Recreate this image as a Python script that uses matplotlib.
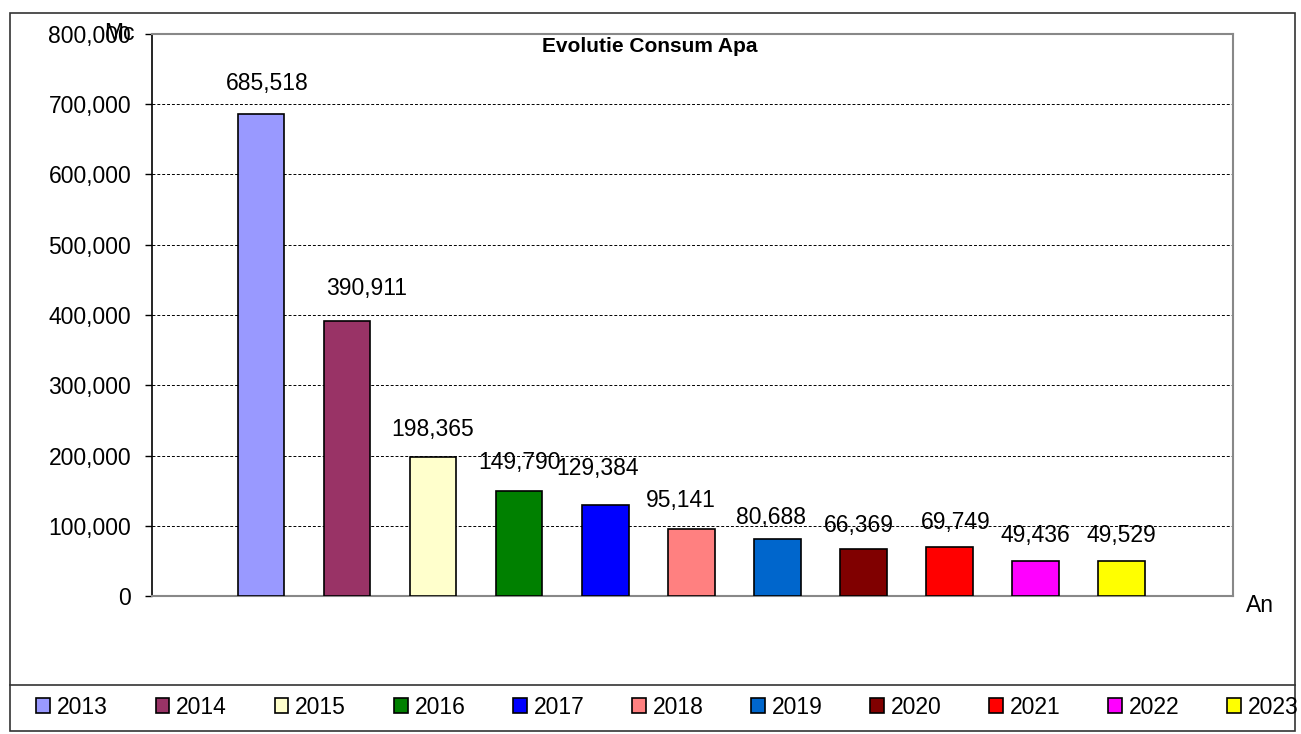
import matplotlib.pyplot as plt
from matplotlib.patches import Rectangle
from matplotlib.lines import Line2D
from matplotlib.ticker import FuncFormatter

years = ['2013', '2014', '2015', '2016', '2017', '2018', '2019', '2020', '2021', '2022', '2023']
consum = [685518, 390911, 198365, 149790, 129384, 95141, 80688, 66369, 69749, 49436, 49529]
colors = ['#9999FF', '#993366', '#FFFFCC', '#008000', '#0000FF', '#FF8080',
          '#0066CC', '#800000', '#FF0000', '#FF00FF', '#FFFF00']

# label nudges (px) relative to bar centre / bar top, as in the original chart
label_dx = [6, 20, 0, 0, -8, -10, -6, -4, 7, 0, 0]
label_dy = [31, 33, 27, 28, 37, 29, 22, 24, 25, 26, 26]

plt.rcParams['font.family'] = ['Liberation Sans', 'DejaVu Sans']

W, H = 1301, 734
fig = plt.figure(figsize=(W / 100, H / 100), dpi=100)

# outer chart frame + legend separator
fig.patches.append(Rectangle((10 / W, 1 - 731 / H), 1285 / W, 718 / H,
                             transform=fig.transFigure, fill=False,
                             edgecolor='#333333', lw=1.2))
fig.lines.append(Line2D([10 / W, 1295 / W], [1 - 685 / H, 1 - 685 / H],
                        transform=fig.transFigure, color='#333333', lw=1.2))

ax = fig.add_axes([152 / W, 1 - 596 / H, (1233 - 152) / W, (596 - 34) / H])

x = list(range(len(years)))
bars = ax.bar(x, consum, width=0.545, color=colors, edgecolor='black', linewidth=1.2,
              label=years, zorder=3)

for xi, v, dx, dy in zip(x, consum, label_dx, label_dy):
    ax.annotate(f'{v:,}', (xi, v), xytext=(dx * 0.72, dy * 0.72), textcoords='offset points',
                ha='center', va='center', fontsize=16.5)

ax.set_xlim(-1.267, 11.30)
ax.set_ylim(0, 800000)
ax.set_yticks(range(0, 800001, 100000))
ax.yaxis.set_major_formatter(FuncFormatter(lambda v, p: f'{int(v):,}'))
ax.tick_params(axis='y', labelsize=16.5, length=5, width=1, pad=10)
ax.set_xticks([])

ax.grid(axis='y', color='black', linestyle=(0, (3, 2)), linewidth=0.7, zorder=0)
for s in ['top', 'right', 'bottom']:
    ax.spines[s].set_color('#888888')
    ax.spines[s].set_linewidth(1.5)
ax.spines['left'].set_color('black')
ax.spines['left'].set_linewidth(1.2)

fig.text(650 / W, 1 - 46 / H, 'Evolutie Consum Apa', ha='center', va='center',
         fontsize=15, fontweight='bold')
fig.text(104 / W, 1 - 34 / H, 'Mc', ha='left', va='center', fontsize=16.5)
fig.text(1260 / W, 1 - 606 / H, 'An', ha='center', va='center', fontsize=16.5)

leg = fig.legend(bars, years, loc='center left', ncol=11,
                 bbox_to_anchor=(25 / W, 1 - 707 / H), frameon=False,
                 fontsize=16.5, handlelength=0.6, handleheight=0.6,
                 handletextpad=0.3, columnspacing=2.08, borderpad=0)

fig.savefig('out.png', dpi=100)
